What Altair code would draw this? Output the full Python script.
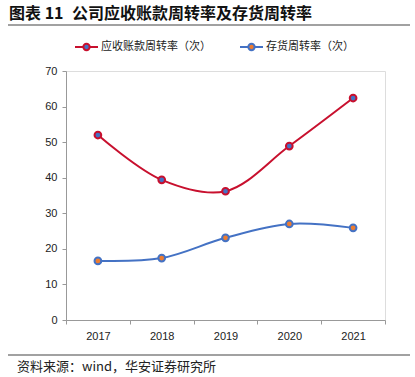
import altair as alt
import pandas as pd

years = ["2017", "2018", "2019", "2020", "2021"]
recv_turnover = [52.0, 39.4, 36.2, 48.9, 62.4]
inv_turnover = [16.6, 17.4, 23.1, 27.0, 25.9]
y_ticks = [0, 10, 20, 30, 40, 50, 60, 70]
series_names = ["应收账款周转率（次）", "存货周转率（次）"]
title_label = "图表 11"
title_text = "公司应收账款周转率及存货周转率"
source_text = "资料来源：wind，华安证券研究所"

RED = "#C8102E"
BLUE = "#4472C4"
ORANGE = "#ED7D31"
FONT = "Liberation Sans"
CJK = "Noto Sans CJK SC"

df_r = pd.DataFrame({"year": years, "v": recv_turnover})
df_i = pd.DataFrame({"year": years, "v": inv_turnover})

x = alt.X("year:O", sort=years, title=None,
          scale=alt.Scale(paddingInner=0, paddingOuter=0),
          axis=alt.Axis(labelAngle=0, tickBand="extent", domainColor="#999999",
                        tickColor="#999999", tickSize=4, labelFont=FONT,
                        labelFontSize=11, labelColor="#222222", labelPadding=6))
y = alt.Y("v:Q", title=None,
          scale=alt.Scale(domain=[0, 70], nice=False, zero=True),
          axis=alt.Axis(values=y_ticks, grid=False, domainColor="#999999",
                        tickColor="#999999", tickSize=4, labelFont=FONT,
                        labelFontSize=11, labelColor="#222222", labelPadding=5))

def series(df, line_color, fill_color):
    line = alt.Chart(df).mark_line(color=line_color, strokeWidth=2,
                                   interpolate="catmull-rom").encode(x=x, y=y)
    pts = alt.Chart(df).mark_point(filled=True, fill=fill_color, stroke=line_color,
                                   strokeWidth=2, size=45, opacity=1).encode(x=x, y=y)
    return line + pts

deco = pd.DataFrame({"a": [0]})

title1 = alt.Chart(deco).mark_text(text=title_label, font=CJK, fontSize=16,
                                   fontWeight="bold", align="left", baseline="middle",
                                   color="#111111").encode(x=alt.value(-57), y=alt.value(-57))
title2 = alt.Chart(deco).mark_text(text=title_text, font=CJK, fontSize=16,
                                   fontWeight="bold", align="left", baseline="middle",
                                   color="#111111").encode(x=alt.value(6), y=alt.value(-57))
top_rule = alt.Chart(deco).mark_rule(color="#444444", strokeWidth=1.2).encode(
    x=alt.value(-58), x2=alt.value(344), y=alt.value(-46))
bottom_rule = alt.Chart(deco).mark_rule(color="#444444", strokeWidth=1.2).encode(
    x=alt.value(-58), x2=alt.value(344), y=alt.value(284))
source = alt.Chart(deco).mark_text(text=source_text, font=CJK, fontSize=13,
                                   align="left", baseline="middle",
                                   color="#222222").encode(x=alt.value(-49), y=alt.value(296))

def legend_item(x0, line_color, fill_color, label):
    ln = alt.Chart(deco).mark_rule(color=line_color, strokeWidth=2).encode(
        x=alt.value(x0), x2=alt.value(x0 + 23), y=alt.value(-24))
    pt = alt.Chart(deco).mark_point(filled=True, fill=fill_color, stroke=line_color,
                                    strokeWidth=2, size=40, opacity=1).encode(
        x=alt.value(x0 + 11.5), y=alt.value(-24))
    tx = alt.Chart(deco).mark_text(text=label, font=CJK, fontSize=11, align="left",
                                   baseline="middle", color="#222222").encode(
        x=alt.value(x0 + 26), y=alt.value(-24))
    return ln + pt + tx

chart = alt.layer(
    series(df_r, RED, BLUE),
    series(df_i, BLUE, ORANGE),
    title1, title2, top_rule, bottom_rule, source,
    legend_item(9, RED, BLUE, series_names[0]),
    legend_item(174, BLUE, ORANGE, series_names[1]),
).properties(
    width=319, height=249,
    padding={"left": 66, "top": 71, "right": 30, "bottom": 57},
    autosize=alt.AutoSizeParams(type="none"),
).configure_view(stroke=None).configure(background="white")

chart.save("out.html", embed_options={"renderer": "svg", "actions": False})
